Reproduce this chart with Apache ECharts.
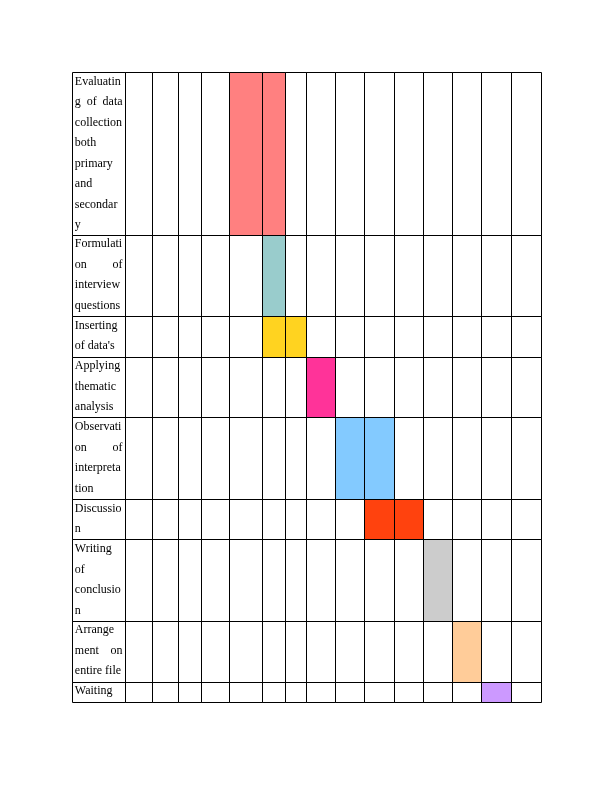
<!DOCTYPE html>
<html>
<head>
<meta charset="utf-8">
<script src="https://cdn.jsdelivr.net/npm/echarts@6/dist/echarts.min.js"></script>
<style>
html,body{margin:0;padding:0;background:#ffffff;}
#chart{width:612px;height:792px;}
</style>
</head>
<body>
<div id="chart"></div>
<script>
// ---------------- DATA ----------------
const tasks = [
  "Evaluating of data collection both primary and secondary",
  "Formulation of interview questions",
  "Inserting of data's",
  "Applying thematic analysis",
  "Observation of interpretation",
  "Discussion",
  "Writing of conclusion",
  "Arrangement on entire file",
  "Waiting"
];
// period columns are numbered 1..15 (column 0 holds the task name)
const startPeriod = [5, 6, 6, 8, 9, 10, 12, 13, 14];
const endPeriod   = [6, 6, 7, 8, 10, 11, 12, 13, 14];
const periodCount = 15;
const taskColors = ['#FF8080', '#99CCCC', '#FFD320', '#FF3399', '#83CAFF', '#FF420E', '#CCCCCC', '#FFCC99', '#CC99FF'];

// ---------------- LAYOUT / STYLE ----------------
const colWidths = [53, 27, 26, 23, 28, 33, 23, 21.2, 28.8, 29, 30, 29, 29, 29, 30, 29.7];
const FONT = "12px 'Liberation Serif', 'Times New Roman', serif";
const WRAP_WIDTH = 48;      // available text width in the name column
const JUSTIFY_WIDTH = 47.8;
const TEXT_PAD_X = 2.8;
const FIRST_LINE_CENTER = 9.6;
const LINE_PITCH = 20.5;

const colEdges = [0];
colWidths.forEach(w => colEdges.push(colEdges[colEdges.length - 1] + w));
const totalWidth = colEdges[colEdges.length - 1];

const measureCtx = document.createElement('canvas').getContext('2d');
measureCtx.font = FONT;
function tw(s) { return measureCtx.measureText(s).width; }

function wrapText(text, maxW) {
  const words = text.split(' ');
  const lines = [];
  let cur = [];
  for (let word of words) {
    while (true) {
      const trial = cur.concat([word]).join(' ');
      if (tw(trial) <= maxW) { cur.push(word); break; }
      if (cur.length) { lines.push({ words: cur, justify: true }); cur = []; continue; }
      let i = word.length;
      while (i > 1 && tw(word.slice(0, i)) > maxW) i--;
      lines.push({ words: [word.slice(0, i)], justify: false });
      word = word.slice(i);
      if (!word.length) break;
    }
  }
  if (cur.length) lines.push({ words: cur, justify: false });
  return lines;
}

const wrapped = tasks.map(t => wrapText(t, WRAP_WIDTH));
const rowEdges = [0];
wrapped.forEach(l => rowEdges.push(rowEdges[rowEdges.length - 1] + l.length));
const totalLines = rowEdges[rowEdges.length - 1];

const px = v => Math.round(v);

// ---------------- CHART ----------------
const chart = echarts.init(document.getElementById('chart'), null, { renderer: 'canvas' });

const barData = tasks.map((t, i) => [startPeriod[i], endPeriod[i], i]);
const rowData = tasks.map((t, i) => [i]);

chart.setOption({
  animation: false,
  backgroundColor: '#ffffff',
  grid: { left: 72, top: 72, width: 469, height: 630, containLabel: false, outerBoundsMode: 'none' },
  xAxis: { type: 'value', min: 0, max: totalWidth, show: false },
  yAxis: { type: 'value', min: 0, max: totalLines, inverse: true, show: false },
  series: [
    {
      name: 'Tasks',
      type: 'custom',
      data: barData,
      encode: { x: [0, 1], y: 2 },
      z: 1,
      renderItem: function (params, api) {
        const s = api.value(0), e = api.value(1), r = api.value(2);
        const children = [];
        for (let p = s; p <= e; p++) {
          const a = api.coord([colEdges[p], rowEdges[r]]);
          const b = api.coord([colEdges[p + 1], rowEdges[r + 1]]);
          children.push({
            type: 'rect',
            shape: { x: px(a[0]), y: px(a[1]), width: px(b[0]) - px(a[0]), height: px(b[1]) - px(a[1]) },
            style: { fill: taskColors[r] }
          });
        }
        return { type: 'group', children: children };
      }
    },
    {
      name: 'Table',
      type: 'custom',
      data: rowData,
      encode: { y: 0 },
      z: 2,
      silent: true,
      renderItem: function (params, api) {
        const r = api.value(0);
        const children = [];
        for (let c = 0; c <= periodCount; c++) {
          const a = api.coord([colEdges[c], rowEdges[r]]);
          const b = api.coord([colEdges[c + 1], rowEdges[r + 1]]);
          children.push({
            type: 'rect',
            shape: { x: px(a[0]) + 0.5, y: px(a[1]) + 0.5, width: px(b[0]) - px(a[0]), height: px(b[1]) - px(a[1]) },
            style: { fill: null, stroke: '#000000', lineWidth: 1 }
          });
        }
        return { type: 'group', children: children };
      }
    },
    {
      name: 'Names',
      type: 'custom',
      data: rowData,
      encode: { y: 0 },
      z: 3,
      silent: true,
      renderItem: function (params, api) {
        const r = api.value(0);
        const top = api.coord([0, rowEdges[r]]);
        const left = top[0] + TEXT_PAD_X;
        const children = [];
        wrapped[r].forEach((line, k) => {
          const y = top[1] + FIRST_LINE_CENTER + k * LINE_PITCH;
          if (line.justify && line.words.length > 1) {
            const widths = line.words.map(tw);
            const sum = widths.reduce((a, b) => a + b, 0);
            const gap = (JUSTIFY_WIDTH - sum) / (line.words.length - 1);
            let x = left;
            line.words.forEach((w, j) => {
              children.push({ type: 'text', x: x, y: y,
                style: { text: w, font: FONT, fill: '#000000', align: 'left', verticalAlign: 'middle' } });
              x += widths[j] + gap;
            });
          } else {
            children.push({ type: 'text', x: left, y: y,
              style: { text: line.words.join(' '), font: FONT, fill: '#000000', align: 'left', verticalAlign: 'middle' } });
          }
        });
        return { type: 'group', children: children };
      }
    }
  ]
});
</script>
</body>
</html>
